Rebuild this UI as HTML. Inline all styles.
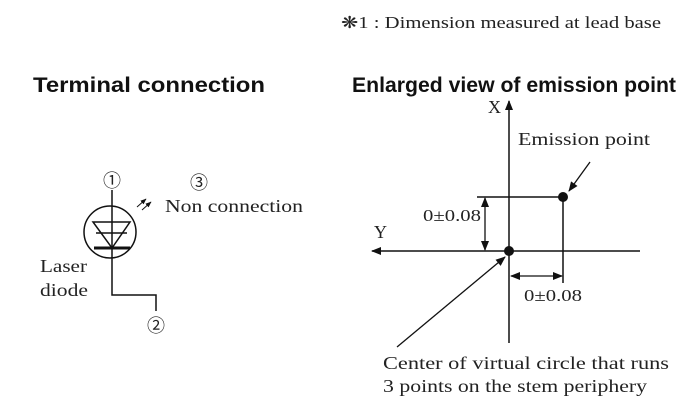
<!DOCTYPE html>
<html><head><meta charset="utf-8"><style>
html,body{margin:0;padding:0;background:#fff;}
svg{display:block;}
.s{font-family:"Liberation Serif",serif;fill:#222;}
.b{font-family:"Liberation Sans",sans-serif;font-weight:bold;fill:#111;}
.c{font-family:"Noto Sans CJK JP","DejaVu Sans",sans-serif;fill:#222;}
</style></head><body>
<svg width="700" height="400" viewBox="0 0 700 400" xmlns="http://www.w3.org/2000/svg">
<defs>
<marker id="a" viewBox="0 0 10 10" refX="9" refY="5" markerWidth="12" markerHeight="10" orient="auto-start-reverse" markerUnits="userSpaceOnUse"><path d="M0,1 L10,5 L0,9 z" fill="#111"/></marker>
<marker id="m" viewBox="0 0 10 10" refX="9" refY="5" markerWidth="6" markerHeight="6" orient="auto" markerUnits="userSpaceOnUse"><path d="M0,1 L10,5 L0,9 z" fill="#111"/></marker>
</defs>
<text class="s" x="341" y="28" font-size="16.5" textLength="320" lengthAdjust="spacingAndGlyphs">❋1 : Dimension measured at lead base</text>
<text class="b" x="33" y="92" font-size="21" textLength="232" lengthAdjust="spacingAndGlyphs">Terminal connection</text>
<text class="b" x="352" y="92" font-size="21" textLength="324" lengthAdjust="spacingAndGlyphs">Enlarged view of emission point</text>

<!-- left diagram -->
<g stroke="#111" fill="none" stroke-width="1.5">
<circle cx="110" cy="232" r="26"/>
<polyline points="112,190 112,295 156,295 156,311"/>
<polygon points="93,222 130,222 112,248"/>
<line x1="96" y1="233" x2="127" y2="233"/>
<line x1="94" y1="248" x2="130" y2="248" stroke-width="3"/>
<line x1="137" y1="207" x2="146" y2="199" marker-end="url(#m)" stroke-width="1"/>
<line x1="142" y1="210" x2="151" y2="202" marker-end="url(#m)" stroke-width="1"/>
</g>
<text class="c" x="103" y="187" font-size="18">①</text>
<text class="c" x="147" y="332" font-size="18">②</text>
<text class="c" x="190" y="189" font-size="18">③</text>
<text class="s" x="165" y="212" font-size="18" textLength="138" lengthAdjust="spacingAndGlyphs">Non connection</text>
<text class="s" x="40" y="272" font-size="18" textLength="47" lengthAdjust="spacingAndGlyphs">Laser</text>
<text class="s" x="40" y="296" font-size="18" textLength="48" lengthAdjust="spacingAndGlyphs">diode</text>

<!-- right diagram -->
<g stroke="#111" fill="none" stroke-width="1.5">
<line x1="509" y1="343" x2="509" y2="101" marker-end="url(#a)"/>
<line x1="640" y1="251" x2="372" y2="251" marker-end="url(#a)"/>
<polyline points="477,197 563,197 563,283"/>
<line x1="485" y1="198" x2="485" y2="250" marker-start="url(#a)" marker-end="url(#a)" stroke-width="1.3"/>
<line x1="511" y1="276" x2="562" y2="276" marker-start="url(#a)" marker-end="url(#a)" stroke-width="1.3"/>
<line x1="590" y1="162" x2="569" y2="191" marker-end="url(#a)" stroke-width="1.3"/>
<line x1="397" y1="347" x2="505" y2="257" marker-end="url(#a)" stroke-width="1.3"/>
</g>
<circle cx="509" cy="251" r="5" fill="#111"/>
<circle cx="563" cy="197" r="5" fill="#111"/>
<text class="s" x="488" y="113" font-size="18">X</text>
<text class="s" x="374" y="238" font-size="18">Y</text>
<text class="s" x="518" y="145" font-size="18" textLength="132" lengthAdjust="spacingAndGlyphs">Emission point</text>
<text class="s" x="423" y="221" font-size="17" textLength="58" lengthAdjust="spacingAndGlyphs">0±0.08</text>
<text class="s" x="524" y="301" font-size="17" textLength="58" lengthAdjust="spacingAndGlyphs">0±0.08</text>
<text class="s" x="383" y="369" font-size="18" textLength="286" lengthAdjust="spacingAndGlyphs">Center of virtual circle that runs</text>
<text class="s" x="383" y="392" font-size="18" textLength="264" lengthAdjust="spacingAndGlyphs">3 points on the stem periphery</text>
</svg>
</body></html>
